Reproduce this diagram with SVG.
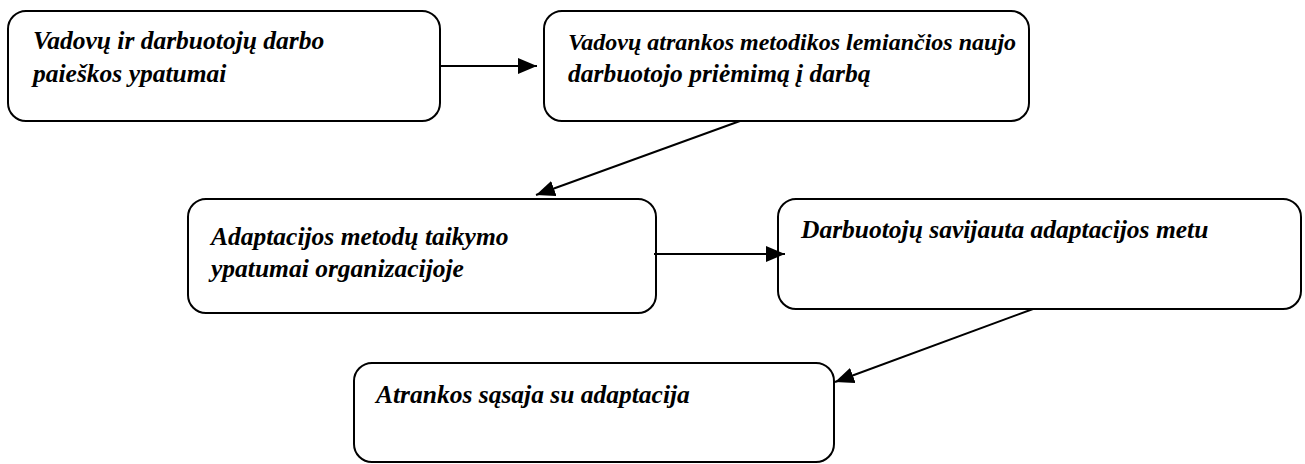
<svg xmlns="http://www.w3.org/2000/svg" width="1305" height="464" viewBox="0 0 1305 464">
  <style>
    .box { fill: #ffffff; stroke: #000000; stroke-width: 2; }
    .lbl { font-family: 'Liberation Serif', serif; font-weight: bold; font-style: italic; font-size: 25.5px; fill: #000000; }
    .conn { stroke: #000000; stroke-width: 2; fill: none; marker-end: url(#arrow); }
  </style>
  <defs>
    <marker id="arrow" markerUnits="userSpaceOnUse" markerWidth="20" markerHeight="16" viewBox="0 0 20 16" refX="19" refY="8" orient="auto">
      <path d="M0,0 L19,8 L0,16 Z" fill="#000000"/>
    </marker>
  </defs>
  <rect width="1305" height="464" fill="#ffffff"/>
  <g id="node1">
    <rect class="box" x="8" y="11" width="432" height="110" rx="18" ry="18"/>
    <text class="lbl" x="33" y="49">Vadovų ir darbuotojų darbo</text>
    <text class="lbl" x="33" y="82">paieškos ypatumai</text>
  </g>
  <g id="node2">
    <rect class="box" x="544" y="11" width="485" height="110" rx="18" ry="18"/>
    <text class="lbl" x="568" y="50" style="font-size:24px">Vadovų atrankos metodikos lemiančios naujo</text>
    <text class="lbl" x="568" y="82">darbuotojo priėmimą į darbą</text>
  </g>
  <g id="node3">
    <rect class="box" x="188" y="199" width="468" height="114" rx="18" ry="18"/>
    <text class="lbl" x="211" y="245">Adaptacijos metodų taikymo</text>
    <text class="lbl" x="211" y="277">ypatumai organizacijoje</text>
  </g>
  <g id="node4">
    <rect class="box" x="778" y="199" width="523" height="110" rx="18" ry="18"/>
    <text class="lbl" x="801" y="238">Darbuotojų savijauta adaptacijos metu</text>
  </g>
  <g id="node5">
    <rect class="box" x="354" y="363" width="480" height="99" rx="18" ry="18"/>
    <text class="lbl" x="376" y="403">Atrankos sąsaja su adaptacija</text>
  </g>
  <g id="connectors">
    <line class="conn" x1="440" y1="66" x2="537" y2="66"/>
    <line class="conn" x1="740" y1="121" x2="536" y2="195"/>
    <line class="conn" x1="654" y1="254" x2="785" y2="254"/>
    <line class="conn" x1="1033" y1="309" x2="835" y2="382"/>
  </g>
</svg>
